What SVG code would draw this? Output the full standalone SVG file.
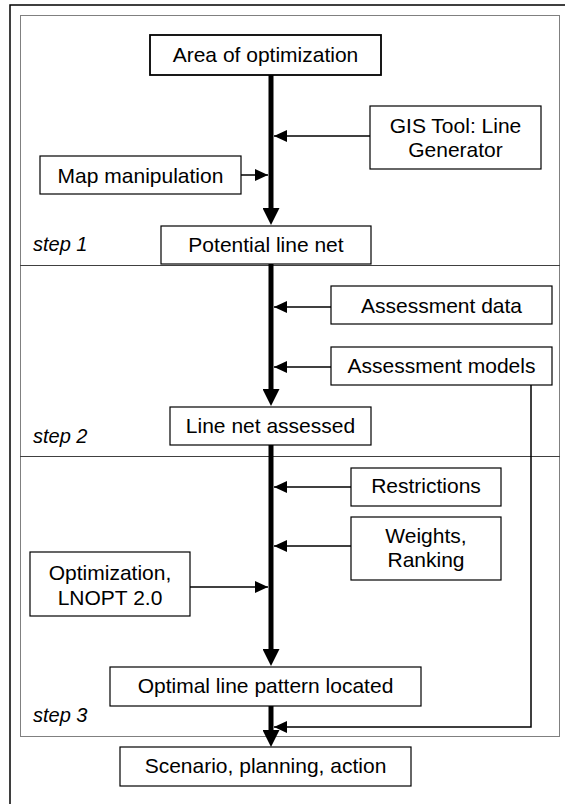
<svg xmlns="http://www.w3.org/2000/svg" width="565" height="804" viewBox="0 0 565 804">
  <style>
    .box { fill: #fff; stroke: #000; stroke-width: 1.2; }
    .box-main { fill: #fff; stroke: #000; stroke-width: 1.8; }
    .lbl { font-family: "Liberation Sans", Arial, sans-serif; font-size: 21px; fill: #000; text-anchor: middle; }
    .step { font-family: "Liberation Sans", Arial, sans-serif; font-size: 20px; font-style: italic; fill: #000; }
    .frame { fill: none; stroke: #000; stroke-width: 1.5; }
    .dotted { fill: none; stroke: #000; stroke-width: 1; stroke-dasharray: 1 1; }
    .trunk { fill: none; stroke: #000; stroke-width: 5; marker-end: url(#bigArrow); }
    .side { fill: none; stroke: #000; stroke-width: 1.5; marker-end: url(#smallArrow); }
  </style>
  <defs>
    <marker id="bigArrow" viewBox="0 0 17 17" refX="5" refY="8.5" markerWidth="17" markerHeight="17" markerUnits="userSpaceOnUse" orient="auto">
      <path d="M0,0 L17,8.5 L0,17 z" fill="#000"/>
    </marker>
    <marker id="smallArrow" viewBox="0 0 13 12" refX="13" refY="6" markerWidth="13" markerHeight="12" markerUnits="userSpaceOnUse" orient="auto">
      <path d="M0,0 L13,6 L0,12 z" fill="#000"/>
    </marker>
  </defs>

  <g id="frame">
    <path class="frame" d="M10,806 V5 H567"/>
    <rect class="dotted" x="20.5" y="15.5" width="539" height="250"/>
    <rect class="dotted" x="20.5" y="265.5" width="539" height="191"/>
    <rect class="dotted" x="20.5" y="456.5" width="539" height="280"/>
    <text class="step" x="33" y="251">step 1</text>
    <text class="step" x="33" y="443">step 2</text>
    <text class="step" x="33" y="722">step 3</text>
  </g>

  <g id="connectors">
    <line class="trunk" x1="271" y1="75" x2="271" y2="213"/>
    <line class="trunk" x1="271" y1="264" x2="271" y2="394"/>
    <line class="trunk" x1="271" y1="445" x2="271" y2="654"/>
    <line class="trunk" x1="271" y1="706" x2="271" y2="735"/>
    <line class="side" x1="370" y1="136" x2="274" y2="136"/>
    <line class="side" x1="241" y1="175" x2="268" y2="175"/>
    <line class="side" x1="331" y1="307" x2="274" y2="307"/>
    <line class="side" x1="331" y1="367" x2="274" y2="367"/>
    <line class="side" x1="351" y1="487" x2="274" y2="487"/>
    <line class="side" x1="351" y1="546" x2="274" y2="546"/>
    <line class="side" x1="190" y1="587" x2="268" y2="587"/>
    <path class="side" d="M531,385 V727 H274"/>
  </g>

  <g id="area">
    <rect class="box-main" x="150" y="35" width="231" height="40"/>
    <text class="lbl" x="265.5" y="62">Area of optimization</text>
  </g>
  <g id="gis">
    <rect class="box" x="370" y="106" width="171" height="63"/>
    <text class="lbl" x="455.5" y="133">GIS Tool: Line</text>
    <text class="lbl" x="455.5" y="157">Generator</text>
  </g>
  <g id="map">
    <rect class="box" x="40" y="156" width="201" height="38"/>
    <text class="lbl" x="140.5" y="183">Map manipulation</text>
  </g>
  <g id="potential">
    <rect class="box" x="161" y="226" width="210" height="38"/>
    <text class="lbl" x="266" y="252">Potential line net</text>
  </g>
  <g id="assess-data">
    <rect class="box" x="331" y="286" width="221" height="38"/>
    <text class="lbl" x="441.5" y="313">Assessment data</text>
  </g>
  <g id="assess-models">
    <rect class="box" x="331" y="347" width="221" height="38"/>
    <text class="lbl" x="441.5" y="373">Assessment models</text>
  </g>
  <g id="assessed">
    <rect class="box" x="170" y="407" width="201" height="38"/>
    <text class="lbl" x="270.5" y="433">Line net assessed</text>
  </g>
  <g id="restrictions">
    <rect class="box" x="351" y="468" width="150" height="38"/>
    <text class="lbl" x="426" y="493">Restrictions</text>
  </g>
  <g id="weights">
    <rect class="box" x="351" y="517" width="150" height="63"/>
    <text class="lbl" x="426" y="543">Weights,</text>
    <text class="lbl" x="426" y="567">Ranking</text>
  </g>
  <g id="optimization">
    <rect class="box" x="30" y="552" width="160" height="64"/>
    <text class="lbl" x="110" y="580">Optimization,</text>
    <text class="lbl" x="110" y="605">LNOPT 2.0</text>
  </g>
  <g id="optimal">
    <rect class="box" x="110" y="667" width="311" height="39"/>
    <text class="lbl" x="265.5" y="693">Optimal line pattern located</text>
  </g>
  <g id="scenario">
    <rect class="box" x="120" y="747" width="291" height="39"/>
    <text class="lbl" x="265.5" y="773">Scenario, planning, action</text>
  </g>
</svg>
